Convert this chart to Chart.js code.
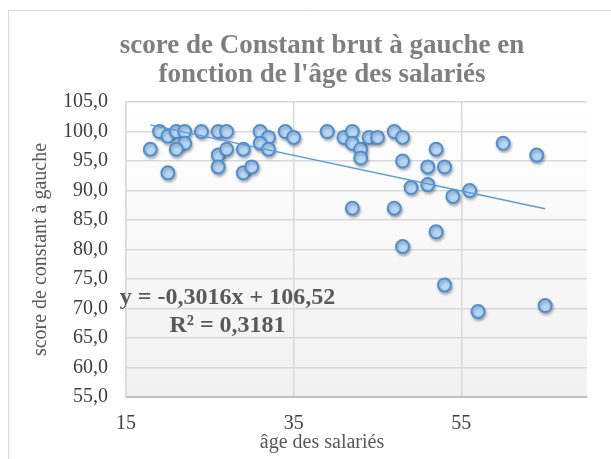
<!DOCTYPE html>
<html>
<head>
<meta charset="utf-8">
<script src="https://cdn.jsdelivr.net/npm/chart.js@4/dist/chart.umd.min.js"></script>
<style>
  html, body { margin: 0; padding: 0; background: #ffffff; }
  #wrap { width: 611px; height: 459px; position: relative; }
</style>
</head>
<body>
<div id="wrap"><canvas id="c" width="611" height="459"></canvas></div>
<script>
// ---- Data ----
const ages = [17.9, 19, 20, 21, 22, 22, 21, 20, 24, 26, 27, 26, 26, 27, 29, 29, 30, 31, 32, 31, 32, 34, 35,
              39, 41, 42, 42, 43, 43, 44, 45, 47, 48, 48, 52, 51, 53, 51, 49, 54, 56, 42, 47, 60, 64, 52, 48, 53, 57, 65];
const scores = [97.0, 100.0, 99.2, 100.0, 100.0, 98.0, 97.0, 93.0, 100.0, 100.0, 100.0, 96.0, 94.0, 97.0, 97.0, 93.0, 94.0, 100.0, 99.0, 98.0, 97.0, 100.0, 99.0,
                100.0, 99.0, 100.0, 98.0, 97.0, 95.5, 99.0, 99.0, 100.0, 99.0, 95.0, 97.0, 94.0, 94.0, 91.0, 90.5, 89.0, 90.0, 87.0, 87.0, 98.0, 96.0, 83.0, 80.5, 74.0, 69.5, 70.5];
const trendSlope = -0.3016;
const trendIntercept = 106.52;
const xTickValues = [15, 35, 55];
const xTickLabels = ['15', '35', '55'];
const yTickValues = [55, 60, 65, 70, 75, 80, 85, 90, 95, 100, 105];
const yTickLabels = ['55,0', '60,0', '65,0', '70,0', '75,0', '80,0', '85,0', '90,0', '95,0', '100,0', '105,0'];
const titleLines = ['score de Constant brut à gauche en', "fonction de l'âge des salariés"];
const xAxisTitle = 'âge des salariés';
const yAxisTitle = 'score de constant à gauche';
const equationLines = ['y = -0,3016x + 106,52', 'R² = 0,3181'];

// ---- Derived structures ----
const scatterPoints = ages.map((a, i) => ({ x: a, y: scores[i] }));
const xMinData = Math.min(...ages), xMaxData = Math.max(...ages);
const trendPoints = [xMinData, xMaxData].map(x => ({ x: x, y: trendSlope * x + trendIntercept }));

const SERIF = "'Liberation Serif', 'Times New Roman', serif";

const decor = {
  id: 'decor',
  beforeDraw(chart) {
    const ctx = chart.ctx, a = chart.chartArea;
    ctx.save();
    // outer frame
    ctx.strokeStyle = '#d9d9d9';
    ctx.lineWidth = 1;
    ctx.beginPath();
    ctx.moveTo(8.5, chart.height);
    ctx.lineTo(8.5, 10.5);
    ctx.lineTo(chart.width, 10.5);
    ctx.stroke();
    // plot background gradient
    const g = ctx.createLinearGradient(0, a.top, 0, a.bottom);
    g.addColorStop(0, '#ffffff');
    g.addColorStop(1, '#f1f1f1');
    ctx.fillStyle = g;
    ctx.fillRect(a.left, a.top, a.right - a.left, a.bottom - a.top);
    ctx.restore();
  },
  beforeDatasetDraw(chart, args) {
    if (args.index === 0) {
      const ctx = chart.ctx;
      ctx.save();
      ctx.shadowColor = 'rgba(0,0,0,0.28)';
      ctx.shadowBlur = 3;
      ctx.shadowOffsetX = 1;
      ctx.shadowOffsetY = 2;
    }
  },
  afterDatasetDraw(chart, args) {
    if (args.index === 0) chart.ctx.restore();
  },
  afterDraw(chart) {
    const ctx = chart.ctx, a = chart.chartArea;
    ctx.save();
    // title
    ctx.fillStyle = '#7f7f7f';
    ctx.font = 'bold 27px ' + SERIF;
    ctx.textAlign = 'center';
    ctx.textBaseline = 'middle';
    const cx = 322;
    titleLines.forEach((t, i) => ctx.fillText(t, cx, 46 + i * 29));
    // axis titles
    ctx.fillStyle = '#595959';
    ctx.font = '20px ' + SERIF;
    ctx.fillText(xAxisTitle, cx, 443);
    ctx.save();
    ctx.translate(41, (a.top + a.bottom) / 2);
    ctx.rotate(-Math.PI / 2);
    ctx.fillText(yAxisTitle, 0, 0);
    ctx.restore();
    // equation
    ctx.fillStyle = '#595959';
    ctx.font = 'bold 24px ' + SERIF;
    const ex = 227.5;
    ctx.fillText(equationLines[0], ex, 298);
    ctx.fillText(equationLines[1], ex, 326);
    ctx.restore();
  }
};

new Chart(document.getElementById('c'), {
  type: 'scatter',
  data: {
    datasets: [
      {
        label: 'score',
        data: scatterPoints,
        pointRadius: 6.5,
        pointHoverRadius: 6.5,
        pointBorderWidth: 2,
        pointBackgroundColor: '#b7d5f5',
        pointBorderColor: '#4f8fd0',
        order: 1
      },
      {
        label: 'tendance',
        type: 'line',
        data: trendPoints,
        borderColor: '#5b9bd5',
        borderWidth: 1.5,
        pointRadius: 0,
        fill: false,
        order: 0
      }
    ]
  },
  options: {
    responsive: false,
    animation: false,
    devicePixelRatio: 1,
    layout: { padding: { top: 102, right: 24, left: 0, bottom: 0 } },
    plugins: { legend: { display: false }, tooltip: { enabled: false }, title: { display: false } },
    scales: {
      x: {
        type: 'linear',
        min: 15, max: 70,
        afterBuildTicks(scale) { scale.ticks = xTickValues.map(v => ({ value: v })); },
        afterFit(scale) { scale.height = 62; },
        ticks: {
          callback(v) { const i = xTickValues.indexOf(v); return i >= 0 ? xTickLabels[i] : ''; },
          font: { family: SERIF, size: 20 },
          color: '#404040',
          padding: 15,
          maxRotation: 0
        },
        grid: { color: '#d9d9d9', lineWidth: 1.5, drawTicks: false },
        border: { display: true, color: '#bfbfbf', width: 2 }
      },
      y: {
        min: 55, max: 105,
        afterBuildTicks(scale) { scale.ticks = yTickValues.map(v => ({ value: v })); },
        afterFit(scale) { scale.width = 126; },
        ticks: {
          callback(v) { const i = yTickValues.indexOf(v); return i >= 0 ? yTickLabels[i] : ''; },
          font: { family: SERIF, size: 20 },
          color: '#404040',
          padding: 18
        },
        grid: { color: '#d9d9d9', lineWidth: 1.5, drawTicks: false },
        border: { display: true, color: '#d9d9d9', width: 1.5 }
      }
    }
  },
  plugins: [decor]
});
</script>
</body>
</html>
